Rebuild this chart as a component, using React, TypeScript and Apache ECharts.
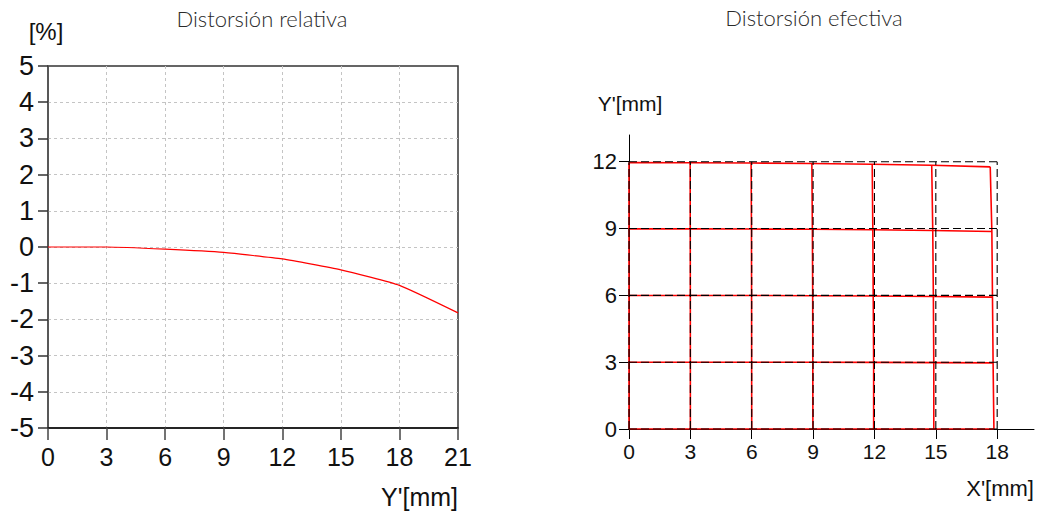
import React, { useEffect, useRef } from "react";
import * as echarts from "echarts";

// Relative distortion (left chart)
const relX = [0, 3, 6, 9, 12, 15, 18, 21];
const relD = [0, 0, -0.06, -0.15, -0.33, -0.63, -1.06, -1.82];

// Ideal grid (right chart)
const idealX = [0, 3, 6, 9, 12, 15, 18];
const idealY = [0, 3, 6, 9, 12];

// Distorted grid nodes (rows follow idealY, columns follow idealX)
const effX = [
  [0, 3, 6.0, 8.99, 11.96, 14.9, 17.84],
  [0, 3, 5.995, 8.985, 11.96, 14.9, 17.8],
  [0, 2.998, 5.992, 8.98, 11.94, 14.88, 17.77],
  [0, 2.995, 5.986, 8.965, 11.92, 14.85, 17.74],
  [0, 2.99, 5.97, 8.94, 11.89, 14.8, 17.66],
];
const effY = [
  [0, 0, 0, 0, 0, 0, 0],
  [3, 3, 2.998, 2.995, 2.99, 2.98, 2.967],
  [5.996, 5.995, 5.992, 5.986, 5.97, 5.95, 5.92],
  [8.987, 8.985, 8.978, 8.965, 8.943, 8.91, 8.87],
  [11.96, 11.957, 11.94, 11.92, 11.89, 11.84, 11.77],
];

const titleFont = "300 22px Lato, 'Open Sans', sans-serif";
const labelFont = "Liberation Sans";

export default function App() {
  const ref = useRef<HTMLDivElement>(null);
  useEffect(() => {
    document.body.style.margin = "0";
    if (!ref.current) return;
    const chart = echarts.init(ref.current, undefined, { renderer: "svg" });

    const series: any[] = [];
    series.push({
      type: "line",
      xAxisIndex: 0,
      yAxisIndex: 0,
      data: relX.map((x, i) => [x, relD[i]]),
      showSymbol: false,
      smooth: 0.15,
      lineStyle: { color: "#ff0000", width: 1.2 },
    });
    effX.forEach((row, r) => {
      series.push({
        type: "line",
        xAxisIndex: 1,
        yAxisIndex: 1,
        data: row.map((x, c) => [x, effY[r][c]]),
        showSymbol: false,
        lineStyle: { color: "#ff0000", width: 1.6 },
        z: 2,
      });
    });
    idealX.forEach((_, c) => {
      series.push({
        type: "line",
        xAxisIndex: 1,
        yAxisIndex: 1,
        data: effX.map((row, r) => [row[c], effY[r][c]]),
        showSymbol: false,
        lineStyle: { color: "#ff0000", width: 1.6 },
        z: 2,
      });
    });
    idealY.forEach((y) => {
      series.push({
        type: "line",
        xAxisIndex: 1,
        yAxisIndex: 1,
        data: [
          [idealX[0], y],
          [idealX[idealX.length - 1], y],
        ],
        showSymbol: false,
        lineStyle: { color: "#000", width: 1.1, type: [8, 4] },
        z: 3,
      });
    });
    idealX.forEach((x) => {
      series.push({
        type: "line",
        xAxisIndex: 1,
        yAxisIndex: 1,
        data: [
          [x, idealY[0]],
          [x, idealY[idealY.length - 1]],
        ],
        showSymbol: false,
        lineStyle: { color: "#000", width: 1.1, type: [8, 4] },
        z: 3,
      });
    });

    const txt = (text: string, x: number, y: number, size: number, align: string, font?: string) => ({
      type: "text",
      x,
      y,
      style: {
        text,
        font: font || `${size}px 'Liberation Sans', Arial, sans-serif`,
        fill: font ? "#2a2a2a" : "#111",
        textAlign: align,
        textVerticalAlign: "middle",
      },
    });

    const multOf3 = (v: number) => (Math.abs(v % 3) < 1e-6 ? String(v) : "");

    chart.setOption({
      animation: false,
      textStyle: { fontFamily: labelFont },
      grid: [
        {
          left: 48,
          top: 66,
          width: 410,
          height: 362,
          show: true,
          borderColor: "#333",
          borderWidth: 1.5,
        },
        { left: 629, top: 135, width: 405, height: 294 },
      ],
      xAxis: [
        {
          type: "value",
          gridIndex: 0,
          min: 0,
          max: 21,
          interval: 3,
          axisLine: { show: true, onZero: false, lineStyle: { color: "#111", width: 1.5 } },
          axisTick: { show: true, length: 12, lineStyle: { color: "#444", width: 1.5 } },
          axisLabel: {
            show: true,
            color: "#111",
            fontSize: 25,
            margin: 16,
          },
          splitLine: {
            show: true,
            showMinLine: false,
            showMaxLine: false,
            lineStyle: { color: "#c4c4c4", type: [3, 3], width: 1 },
          },
        },
        {
          type: "value",
          gridIndex: 1,
          min: 0,
          max: 19.8,
          interval: 3,
          axisLine: { show: true, onZero: false, lineStyle: { color: "#000", width: 1 } },
          axisTick: {
            show: true,
            length: 10,
            customValues: idealX,
            lineStyle: { color: "#000" },
          },
          axisLabel: {
            show: true,
            color: "#111",
            fontSize: 21,
            margin: 12,
            formatter: multOf3,
          },
          splitLine: { show: false },
        },
      ],
      yAxis: [
        {
          type: "value",
          gridIndex: 0,
          min: -5,
          max: 5,
          interval: 1,
          axisLine: { show: true, onZero: false, lineStyle: { color: "#555", width: 1.5 } },
          axisTick: { show: true, length: 10, lineStyle: { color: "#333", width: 1.5 } },
          axisLabel: {
            show: true,
            color: "#111",
            fontSize: 27,
            margin: 14,
          },
          splitLine: {
            show: true,
            showMinLine: false,
            showMaxLine: false,
            lineStyle: { color: "#c4c4c4", type: [3, 3], width: 1 },
          },
        },
        {
          type: "value",
          gridIndex: 1,
          min: 0,
          max: 13.2,
          interval: 3,
          axisLine: { show: true, onZero: false, lineStyle: { color: "#000", width: 1 } },
          axisTick: {
            show: true,
            length: 10,
            customValues: idealY,
            lineStyle: { color: "#000" },
          },
          axisLabel: {
            show: true,
            color: "#111",
            fontSize: 22,
            margin: 12,
            formatter: multOf3,
          },
          splitLine: { show: false },
        },
      ],
      graphic: [
        txt("Distorsión relativa", 262, 18, 22, "center", titleFont),
        txt("Distorsión efectiva", 814, 17, 22, "center", titleFont),
        txt("[%]", 46, 31, 24, "center"),
        txt("Y'[mm]", 458, 497, 25, "right"),
        txt("Y'[mm]", 630, 103, 21, "center"),
        txt("X'[mm]", 1034, 488, 22, "right"),
      ],
      series,
    });
    return () => chart.dispose();
  }, []);
  return <div ref={ref} style={{ width: 1041, height: 517 }} />;
}
